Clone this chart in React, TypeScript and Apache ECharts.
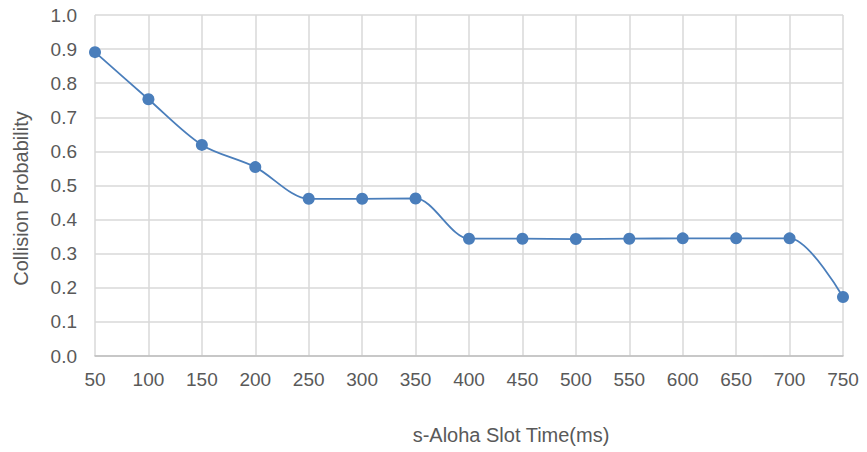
import React, { useEffect, useRef } from "react";
import * as echarts from "echarts";

const slotTimes = ["50", "100", "150", "200", "250", "300", "350", "400", "450", "500", "550", "600", "650", "700", "750"];
const collisionProb = [0.891, 0.753, 0.619, 0.554, 0.461, 0.461, 0.462, 0.344, 0.344, 0.343, 0.344, 0.345, 0.345, 0.345, 0.173];
const yTicks = { min: 0, max: 1, interval: 0.1 };

export default function App() {
  const ref = useRef<HTMLDivElement>(null);
  useEffect(() => {
    document.body.style.margin = "0";
    const chart = echarts.init(ref.current!, null, { renderer: "svg" });
    const font = "'Liberation Sans', Arial, sans-serif";
    chart.setOption({
      animation: false,
      backgroundColor: "#ffffff",
      grid: { left: 95, right: 24, top: 15, bottom: 96 },
      xAxis: {
        type: "category",
        data: slotTimes,
        boundaryGap: false,
        name: "s-Aloha Slot Time(ms)",
        nameLocation: "middle",
        nameGap: 69,
        nameTextStyle: { color: "#595959", fontSize: 20, fontFamily: font, padding: [0, 0, 0, 84] },
        axisLine: { show: true, lineStyle: { color: "#bfbfbf", width: 1.5 } },
        axisTick: { show: false },
        axisLabel: { color: "#595959", fontSize: 19, fontFamily: font, margin: 14 },
        splitLine: { show: true, lineStyle: { color: "#d9d9d9", width: 1.5 } },
      },
      yAxis: {
        type: "value",
        min: yTicks.min,
        max: yTicks.max,
        interval: yTicks.interval,
        name: "Collision Probability",
        nameLocation: "middle",
        nameGap: 64,
        nameTextStyle: { color: "#595959", fontSize: 20, fontFamily: font, padding: [0, 26, 0, 0] },
        axisLine: { show: false },
        axisTick: { show: false },
        axisLabel: {
          color: "#595959",
          fontSize: 19,
          fontFamily: font,
          margin: 18,
          formatter: (v: number) => v.toFixed(1),
        },
        splitLine: { show: true, lineStyle: { color: "#d9d9d9", width: 1.5 } },
      },
      series: [
        {
          type: "line",
          data: collisionProb,
          smooth: 0.3,
          symbol: "circle",
          symbolSize: 12,
          itemStyle: { color: "#4a7ebb" },
          lineStyle: { color: "#4a7ebb", width: 1.8 },
        },
      ],
    });
    return () => chart.dispose();
  }, []);
  return <div ref={ref} style={{ width: 867, height: 452 }} />;
}
